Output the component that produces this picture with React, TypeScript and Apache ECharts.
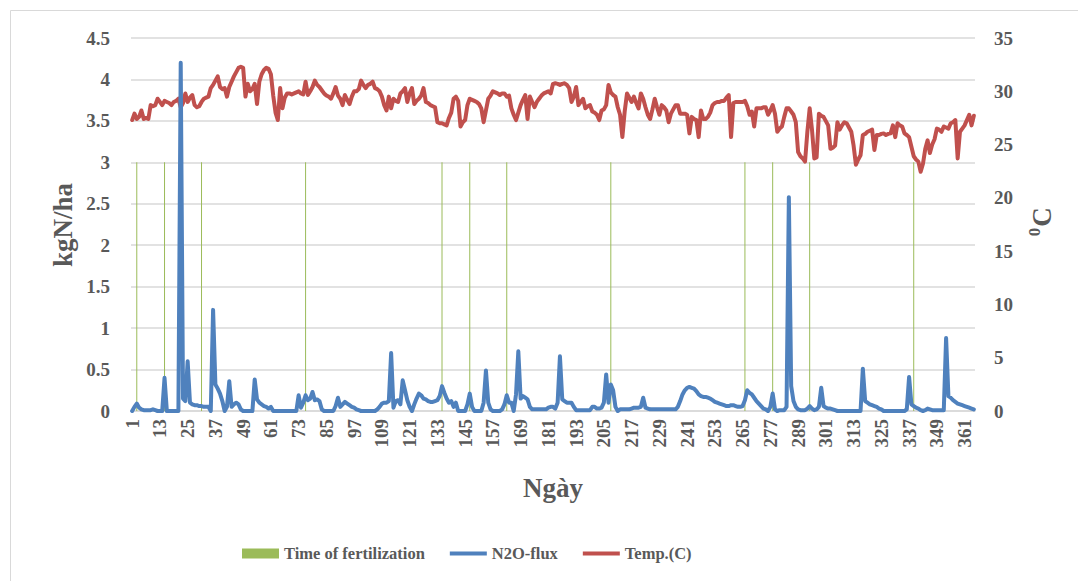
import React, { useEffect, useRef } from "react";
import * as echarts from "echarts";

// Day categories 1..365
const days: string[] = Array.from({ length: 365 }, (_, i) => String(i + 1));

// Days on which fertilizer was applied (drawn as thin bars up to 3 on left axis)
const fertilizationDays = [3, 15, 31, 76, 135, 147, 163, 208, 266, 278, 294, 339];
const fertilizationHeight = 3;

// N2O flux, kgN/ha (left axis), day 1..365
const n2oFlux = [
  0, 0.05, 0.09, 0.04, 0.02, 0.01, 0.01, 0.01, 0.01, 0.02,
  0.01, 0, 0, 0, 0.40, 0, 0, 0, 0, 0,
  0, 4.2, 0.15, 0.12, 0.6, 0.1, 0.08, 0.07, 0.07, 0.06,
  0.06, 0.05, 0.05, 0.05, 0, 1.22, 0.32, 0.27, 0.21, 0.12,
  0, 0.05, 0.36, 0.05, 0.08, 0.1, 0.08, 0.02, 0, 0,
  0, 0, 0, 0.38, 0.14, 0.1, 0.08, 0.06, 0.05, 0.03,
  0.05, 0, 0, 0, 0, 0, 0, 0, 0, 0,
  0, 0, 0.19, 0.04, 0.1, 0.19, 0.13, 0.15, 0.23, 0.13,
  0.14, 0.12, 0.02, 0, 0, 0, 0, 0, 0.06, 0.16,
  0.05, 0.08, 0.11, 0.09, 0.07, 0.05, 0.04, 0.02, 0.01, 0,
  0, 0, 0, 0, 0, 0, 0.02, 0.05, 0.09, 0.1,
  0.1, 0.12, 0.7, 0.04, 0.12, 0.13, 0.08, 0.37, 0.25, 0.13,
  0.05, 0, 0.08, 0.15, 0.21, 0.19, 0.15, 0.14, 0.12, 0.11,
  0.11, 0.12, 0.13, 0.18, 0.3, 0.22, 0.15, 0.1, 0.12, 0.05,
  0.1, 0, 0, 0, 0, 0.08, 0.21, 0.05, 0, 0,
  0, 0, 0.1, 0.49, 0.1, 0.02, 0, 0, 0, 0,
  0.02, 0.08, 0.19, 0.1, 0.1, 0, 0.2, 0.72, 0.15, 0.18,
  0.16, 0.14, 0.05, 0.02, 0.02, 0.02, 0.02, 0.02, 0.02, 0.02,
  0.04, 0.05, 0.05, 0.03, 0.1, 0.66, 0.14, 0.12, 0.1, 0.1,
  0.1, 0.05, 0.01, 0.01, 0.01, 0.01, 0.01, 0.01, 0.01, 0.05,
  0.05, 0.03, 0.03, 0.04, 0.1, 0.44, 0.1, 0.32, 0.25, 0.05,
  0, 0.02, 0.02, 0.02, 0.02, 0.02, 0.03, 0.04, 0.04, 0.04,
  0.05, 0.16, 0.04, 0.03, 0.02, 0.02, 0.02, 0.02, 0.02, 0.02,
  0.02, 0.02, 0.02, 0.02, 0.02, 0.02, 0.05, 0.12, 0.2, 0.25,
  0.28, 0.29, 0.28, 0.27, 0.24, 0.2, 0.18, 0.17, 0.17, 0.16,
  0.15, 0.13, 0.11, 0.1, 0.09, 0.08, 0.07, 0.06, 0.06, 0.07,
  0.07, 0.06, 0.05, 0.05, 0.06, 0.13, 0.25, 0.22, 0.2, 0.16,
  0.12, 0.09, 0.06, 0.03, 0.02, 0, 0.05, 0.21, 0.02, 0,
  0.01, 0.01, 0.01, 0.05, 2.58, 0.3, 0.12, 0.05, 0.02, 0.01,
  0.01, 0.01, 0.03, 0.06, 0.03, 0.01, 0.02, 0.05, 0.28, 0.06,
  0.04, 0.03, 0.03, 0.02, 0.01, 0, 0, 0, 0, 0,
  0, 0, 0, 0, 0, 0, 0.51, 0.12, 0.1, 0.08,
  0.07, 0.06, 0.05, 0.03, 0.02, 0, 0, 0, 0, 0,
  0, 0, 0, 0, 0, 0.02, 0.41, 0.08, 0.06, 0.04,
  0.03, 0.01, 0, 0.01, 0.03, 0.02, 0.01, 0.01, 0.01, 0.01,
  0.01, 0.01, 0.88, 0.18, 0.16, 0.13, 0.11, 0.09, 0.08, 0.07,
  0.06, 0.05, 0.04, 0.03, 0.02,
];

// Temperature, degrees C (right axis), day 1..365
const temperature = [
  27.3, 27.9, 27.4, 27.6, 28.2, 27.4, 27.5, 27.4, 28.7, 28.6,
  28.7, 29.3, 29.0, 28.7, 29.1, 29.0, 28.9, 28.7, 29.0, 29.1,
  29.3, 28.5, 28.9, 29.8, 29.0, 29.4, 29.65, 28.7, 28.5, 28.6,
  29.0, 29.3, 29.4, 29.5, 30.3, 30.6, 31.0, 31.4, 30.4, 30.2,
  30.3, 29.5, 30.4, 30.9, 31.4, 31.8, 32.2, 32.3, 32.2, 29.5,
  30.7, 30.0, 30.2, 30.7, 28.8, 30.9, 31.6, 32.0, 32.2, 32.1,
  31.6, 29.6, 28.0, 27.3, 30.3, 28.4, 29.4, 29.8, 29.8, 29.7,
  29.8, 29.9, 30.0, 29.8, 29.7, 30.9, 29.65, 30.0, 30.4, 31.0,
  30.6, 30.4, 30.1, 29.8, 29.6, 29.5, 29.3, 29.8, 30.4, 29.6,
  29.3, 28.7, 29.65, 29.2, 28.8, 29.5, 30.0, 30.0, 30.2, 31.0,
  30.6, 30.3, 30.6, 30.7, 30.9, 30.3, 30.2, 30.0, 29.5, 28.7,
  28.2, 29.5, 28.4, 29.3, 29.1, 29.0, 29.8, 30.0, 30.3, 29.0,
  29.8, 30.3, 28.8, 29.1, 29.3, 29.6, 30.3, 29.0, 28.9, 28.7,
  28.6, 28.5, 27.1, 27.0, 27.0, 26.9, 26.8, 27.5, 28.0, 29.3,
  29.5, 29.1, 26.7, 27.1, 27.3, 28.7, 29.3, 29.2, 29.1, 29.0,
  28.8, 28.4, 27.1, 28.2, 29.3, 29.6, 30.0, 29.9, 29.8, 29.65,
  29.8, 29.8, 29.5, 29.6, 28.4, 27.8, 27.3, 28.0, 28.7, 29.2,
  29.65, 27.4, 29.5, 29.0, 28.5, 29.0, 29.3, 29.6, 29.8, 29.9,
  30.0, 29.8, 30.7, 30.75, 30.7, 30.6, 30.7, 30.75, 30.6, 30.3,
  29.0, 29.5, 30.4, 28.7, 29.0, 29.3, 28.4, 28.6, 28.7, 28.1,
  28.0, 27.8, 27.3, 28.2, 28.3, 28.7, 30.6, 29.9, 29.65, 29.5,
  28.5, 27.8, 25.7, 28.1, 29.8, 29.4, 29.0, 29.5, 28.9, 28.4,
  29.8, 29.3, 28.5, 27.8, 27.4, 28.3, 29.3, 28.5, 27.8, 28.7,
  28.5, 28.2, 27.1, 27.9, 28.3, 28.7, 28.7, 27.9, 27.9, 27.9,
  27.8, 26.05, 27.6, 27.4, 27.3, 25.7, 28.2, 27.4, 27.4, 27.6,
  28.0, 28.7, 28.9, 29.0, 29.0, 29.1, 29.1, 29.4, 29.65, 25.7,
  28.9, 29.0, 29.0, 29.0, 29.0, 29.1, 28.6, 27.8, 28.1, 26.7,
  28.4, 28.4, 28.4, 28.5, 28.5, 27.8, 28.2, 28.7, 27.9, 26.2,
  26.5, 26.7, 27.6, 28.4, 28.4, 28.1, 27.8, 27.1, 24.3, 23.9,
  23.7, 23.4, 26.2, 28.4, 26.4, 23.7, 23.8, 27.9, 27.7, 27.6,
  27.2, 26.8, 24.6, 24.7, 24.9, 27.1, 26.4, 26.8, 27.1, 27.0,
  26.6, 26.2, 24.9, 23.1, 23.6, 24.0, 25.9, 26.0, 26.2, 26.3,
  26.4, 24.5, 25.9, 25.9, 26.0, 26.05, 25.9, 26.0, 26.05, 26.8,
  25.7, 27.0, 26.8, 26.7, 26.05, 25.9, 25.7, 24.8, 23.9, 23.6,
  23.4, 22.45, 23.2, 24.6, 25.4, 24.2, 25.0, 25.5, 26.5, 26.4,
  26.2, 26.7, 26.6, 26.5, 27.0, 27.1, 27.3, 23.7, 26.2, 26.5,
  26.8, 27.3, 27.8, 26.8, 27.7,
];

const FONT = "'Liberation Serif', 'Times New Roman', serif";
const TEXT = "#595959";
// legend icon: a 4px-thick line centred in a 37x10 box
const LINE_ICON = "path://M0,0 M37,10 M0,3 L37,3 L37,7 L0,7 Z";

export default function App() {
  const ref = useRef<HTMLDivElement>(null);

  useEffect(() => {
    if (!ref.current) return;
    const chart = echarts.init(ref.current, undefined, { renderer: "svg" });

    const fertData = days.map((d) =>
      fertilizationDays.indexOf(Number(d)) >= 0 ? fertilizationHeight : "-"
    );

    chart.setOption({
      animation: false,
      backgroundColor: "#ffffff",
      grid: { left: 131, right: 103, top: 38, bottom: 170, containLabel: false },
      legend: {
        left: 237,
        top: 540,
        itemWidth: 37,
        itemHeight: 10,
        itemGap: 25,
        textStyle: { fontFamily: FONT, fontWeight: "bold", fontSize: 16.5, color: TEXT },
        data: [
          { name: "Time of fertilization", icon: "rect" },
          { name: "N2O-flux", icon: LINE_ICON },
          { name: "Temp.(C)", icon: LINE_ICON },
        ],
      },
      xAxis: {
        type: "category",
        data: days,
        boundaryGap: true,
        axisLine: { show: true, lineStyle: { color: "#D9D9D9", width: 1.5 } },
        axisTick: { show: false },
        axisLabel: {
          interval: 11,
          rotate: 90,
          margin: 8,
          fontFamily: FONT,
          fontWeight: "bold",
          fontSize: 19,
          color: TEXT,
        },
        splitLine: { show: false },
      },
      yAxis: [
        {
          type: "value",
          min: 0,
          max: 4.5,
          interval: 0.5,
          axisLine: { show: false },
          axisTick: { show: false },
          axisLabel: { margin: 21, fontFamily: FONT, fontWeight: "bold", fontSize: 19, color: TEXT },
          splitLine: { show: true, lineStyle: { color: "#D9D9D9", width: 1.5 } },
        },
        {
          type: "value",
          min: 0,
          max: 35,
          interval: 5,
          position: "right",
          axisLine: { show: false },
          axisTick: { show: false },
          axisLabel: { margin: 19, fontFamily: FONT, fontWeight: "bold", fontSize: 19, color: TEXT },
          splitLine: { show: false },
        },
      ],
      series: [
        {
          name: "Time of fertilization",
          type: "bar",
          yAxisIndex: 0,
          data: fertData,
          barWidth: 1,
          itemStyle: { color: "#9BBB59" },
          z: 1,
        },
        {
          name: "Temp.(C)",
          type: "line",
          yAxisIndex: 1,
          data: temperature,
          symbol: "none",
          lineStyle: { color: "#C0504D", width: 4, join: "round", cap: "round" },
          itemStyle: { color: "#C0504D" },
          z: 2,
        },
        {
          name: "N2O-flux",
          type: "line",
          yAxisIndex: 0,
          data: n2oFlux,
          symbol: "none",
          lineStyle: { color: "#4F81BD", width: 4, join: "round", cap: "round" },
          itemStyle: { color: "#4F81BD" },
          z: 3,
        },
      ],
      graphic: [
        {
          type: "rect",
          shape: { x: 10.5, y: 10.5, width: 1100, height: 620 },
          style: { fill: "none", stroke: "#D9D9D9", lineWidth: 1 },
          silent: true,
          z: -10,
        },
        {
          type: "text",
          x: 63,
          y: 225,
          rotation: Math.PI / 2,
          style: {
            text: "kgN/ha",
            fontFamily: FONT,
            fontWeight: "bold",
            fontSize: 27,
            fill: TEXT,
            align: "center",
            verticalAlign: "middle",
          },
        },
        {
          type: "text",
          x: 1042,
          y: 217,
          rotation: Math.PI / 2,
          style: {
            text: "C",
            fontFamily: FONT,
            fontWeight: "bold",
            fontSize: 27,
            fill: TEXT,
            align: "center",
            verticalAlign: "middle",
          },
        },
        {
          type: "text",
          x: 1034,
          y: 232,
          rotation: Math.PI / 2,
          style: {
            text: "0",
            fontFamily: FONT,
            fontWeight: "bold",
            fontSize: 17,
            fill: TEXT,
            align: "center",
            verticalAlign: "middle",
          },
        },
        {
          type: "text",
          x: 553,
          y: 488,
          style: {
            text: "Ngày",
            fontFamily: FONT,
            fontWeight: "bold",
            fontSize: 27,
            fill: TEXT,
            align: "center",
            verticalAlign: "middle",
          },
        },
      ],
    });

    return () => chart.dispose();
  }, []);

  return (
    <div
      ref={ref}
      style={{ position: "absolute", left: 0, top: 0, width: 1078, height: 581 }}
    />
  );
}
